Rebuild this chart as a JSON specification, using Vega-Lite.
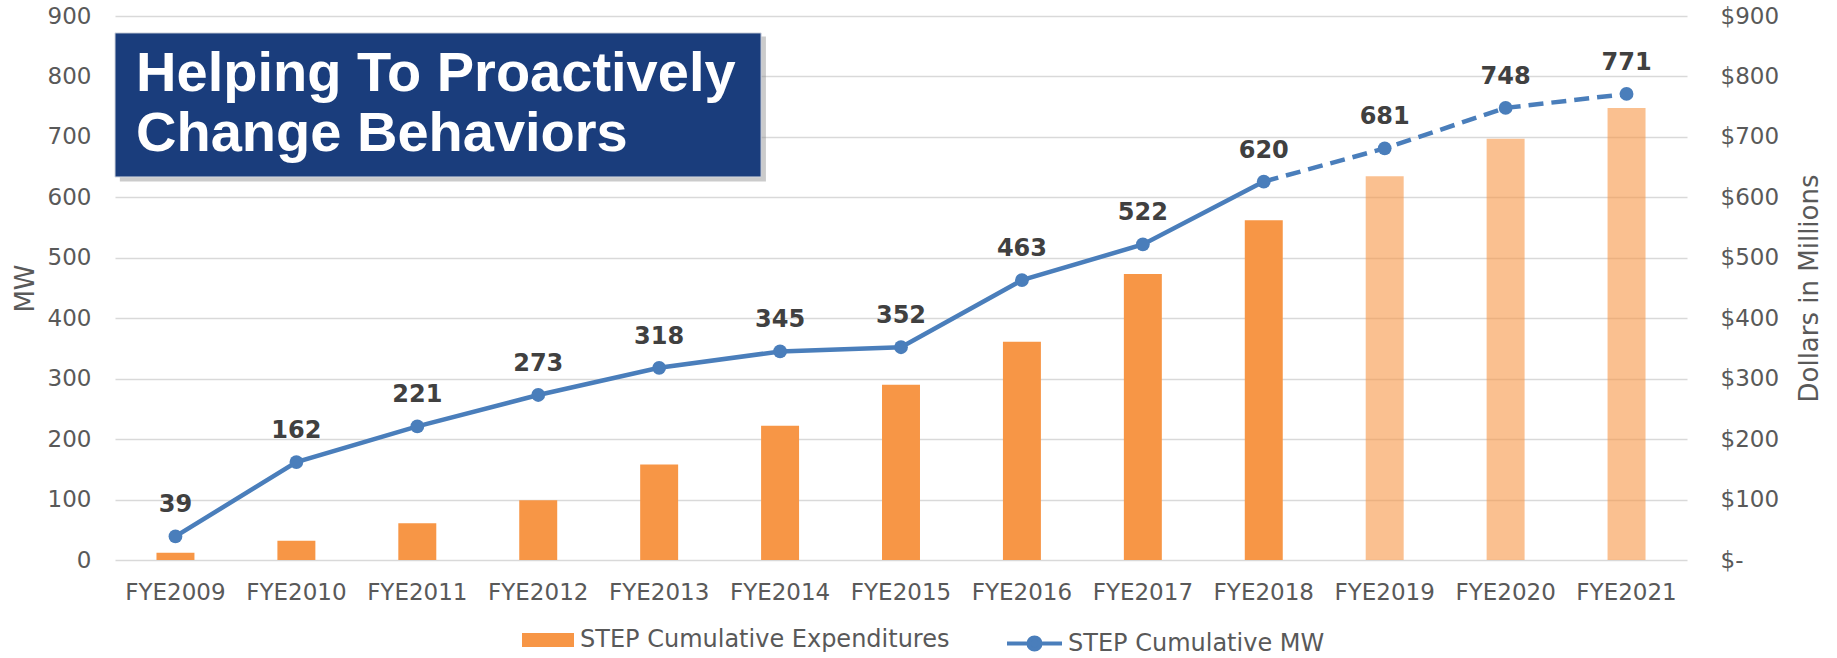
{
  "$schema": "https://vega.github.io/schema/vega-lite/v6.json",
  "autosize": "none",
  "padding": {"left": 115, "top": 16, "right": 150, "bottom": 98},
  "width": 1572,
  "height": 544,
  "background": "white",
  "config": {
    "view": {"stroke": null},
    "font": "DejaVu Sans",
    "axis": {"labelFont": "DejaVu Sans", "labelColor": "#595959", "titleFont": "DejaVu Sans", "titleColor": "#595959", "titleFontWeight": "normal"},
    "legend": {"labelFont": "DejaVu Sans", "labelFontSize": 24, "labelColor": "#595959", "labelLimit": 600}
  },
  "data": {
    "values": [
      {"year": "FYE2009", "mw": 39, "label": "39", "exp": 12, "proj": false},
      {"year": "FYE2010", "mw": 162, "label": "162", "exp": 32, "proj": false},
      {"year": "FYE2011", "mw": 221, "label": "221", "exp": 61, "proj": false},
      {"year": "FYE2012", "mw": 273, "label": "273", "exp": 99, "proj": false},
      {"year": "FYE2013", "mw": 318, "label": "318", "exp": 158, "proj": false},
      {"year": "FYE2014", "mw": 345, "label": "345", "exp": 222, "proj": false},
      {"year": "FYE2015", "mw": 352, "label": "352", "exp": 290, "proj": false},
      {"year": "FYE2016", "mw": 463, "label": "463", "exp": 361, "proj": false},
      {"year": "FYE2017", "mw": 522, "label": "522", "exp": 473, "proj": false},
      {"year": "FYE2018", "mw": 626, "label": "620", "exp": 562, "proj": false},
      {"year": "FYE2019", "mw": 681, "label": "681", "exp": 635, "proj": true},
      {"year": "FYE2020", "mw": 748, "label": "748", "exp": 697, "proj": true},
      {"year": "FYE2021", "mw": 771, "label": "771", "exp": 748, "proj": true}
    ]
  },
  "layer": [
    {
      "encoding": {
        "x": {
          "field": "year", "type": "nominal", "sort": null,
          "scale": {"paddingInner": 0.686, "paddingOuter": 0.343},
          "axis": {"title": null, "labelAngle": 0, "labelFontSize": 23, "labelPadding": 21, "ticks": false, "tickSize": 0, "domain": false, "grid": false}
        }
      },
      "layer": [
        {
          "mark": {"type": "bar"},
          "encoding": {
            "y": {
              "field": "exp", "type": "quantitative",
              "scale": {"domain": [0, 900]},
              "axis": {"orient": "right", "title": "Dollars in Millions", "titleFontSize": 26, "titleAngle": 270, "titlePadding": 44, "labelFontSize": 23, "labelPadding": 33, "ticks": false, "tickSize": 0, "domain": false, "grid": false, "values": [0,100,200,300,400,500,600,700,800,900], "labelExpr": "datum.value == 0 ? '$-' : '$' + datum.label", "labelAlign": "left"}
            },
            "fill": {
              "datum": "STEP Cumulative Expenditures",
              "scale": {"range": ["#F79646"]},
              "legend": {"title": null, "orient": "none", "legendX": 407, "legendY": 598, "symbolType": "M-1,-0.27H1V0.27H-1Z", "symbolSize": 2704, "labelOffset": 6, "symbolStrokeWidth": 0}
            },
            "fillOpacity": {"condition": {"test": "datum.proj", "value": 0.6}, "value": 1}
          }
        },
        {
          "encoding": {
            "y": {
              "field": "mw", "type": "quantitative",
              "scale": {"domain": [0, 900]},
              "axis": {"orient": "left", "title": "MW", "titleFontSize": 26, "titlePadding": 9, "labelFontSize": 23, "labelPadding": 24, "ticks": false, "tickSize": 0, "domain": false, "grid": true, "gridColor": "#D9D9D9", "gridWidth": 1.5, "values": [0,100,200,300,400,500,600,700,800,900]}
            }
          },
          "layer": [
            {
              "transform": [{"filter": {"field": "proj", "equal": false}}],
              "mark": {"type": "line", "strokeWidth": 4.5},
              "encoding": {
                "stroke": {
                  "datum": "STEP Cumulative MW",
                  "scale": {"range": ["#4A7EBB"]},
                  "legend": {"title": null, "orient": "none", "legendX": 890, "legendY": 598, "symbolType": "M-1,0H1M-0.22,0A0.22,0.22,0,1,1,0.22,0A0.22,0.22,0,1,1,-0.22,0Z", "symbolSize": 3025, "symbolStrokeWidth": 4, "symbolFillColor": "#4A7EBB", "symbolStrokeColor": "#4A7EBB", "labelOffset": 4}
                }
              }
            },
            {
              "transform": [{"filter": {"field": "year", "oneOf": ["FYE2018", "FYE2019", "FYE2020", "FYE2021"]}}],
              "mark": {"type": "line", "strokeWidth": 4.5, "strokeDash": [15, 8]},
              "encoding": {
                "stroke": {"datum": "STEP Cumulative MW"}
              }
            },
            {
              "mark": {"type": "point", "filled": true, "opacity": 1, "color": "#4A7EBB", "size": 190}
            },
            {
              "mark": {"type": "text", "font": "DejaVu Sans", "fontWeight": "bold", "fontSize": 24, "color": "#404040", "dy": -31, "baseline": "middle", "align": "center"},
              "encoding": {
                "text": {"field": "label"}
              }
            }
          ]
        }
      ],
      "resolve": {"scale": {"y": "independent"}}
    },
    {
      "data": {"values": [{"title": "Helping To Proactively\nChange Behaviors"}]},
      "layer": [
        {
          "mark": {"type": "rect", "fill": "#8c8c8c", "opacity": 0.45},
          "encoding": {
            "x": {"datum": 0.04, "type": "quantitative", "scale": {"domain": [0, 13]}, "axis": null},
            "x2": {"datum": 5.383},
            "y": {"datum": 866, "type": "quantitative", "scale": {"domain": [0, 900]}, "axis": null},
            "y2": {"datum": 626}
          }
        },
        {
          "mark": {"type": "rect", "fill": "#1A3D7C", "stroke": "#D0D5DE", "strokeWidth": 1},
          "encoding": {
            "x": {"datum": 0, "type": "quantitative"},
            "x2": {"datum": 5.343},
            "y": {"datum": 872, "type": "quantitative"},
            "y2": {"datum": 633.7}
          }
        },
        {
          "mark": {"type": "text", "font": "Liberation Sans", "fontWeight": "bold", "fontSize": 56, "color": "white", "align": "left", "baseline": "middle", "lineBreak": "\n", "lineHeight": 60},
          "encoding": {
            "x": {"datum": 0.174, "type": "quantitative"},
            "y": {"datum": 804, "type": "quantitative"},
            "text": {"field": "title"}
          }
        }
      ]
    }
  ],
  "resolve": {"scale": {"x": "independent", "y": "independent"}}
}
